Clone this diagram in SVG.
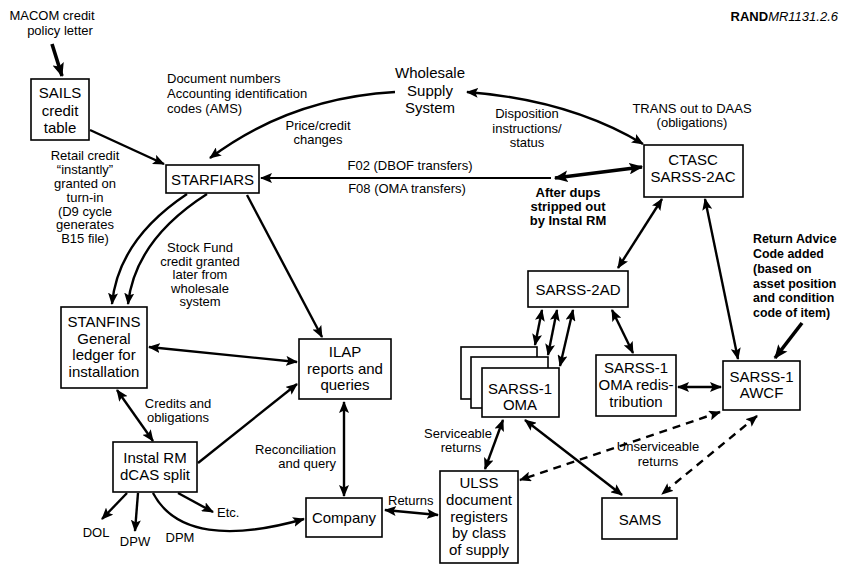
<svg xmlns="http://www.w3.org/2000/svg" width="842" height="566" viewBox="0 0 842 566">
<defs>
<marker id="ah" viewBox="0 0 12 10" refX="11" refY="5" markerWidth="12" markerHeight="10" markerUnits="userSpaceOnUse" orient="auto-start-reverse"><path d="M0,0 L12,5 L0,10 L2.5,5 z" fill="#000"/></marker>
<marker id="ahb" viewBox="0 0 12 10" refX="11" refY="5" markerWidth="14" markerHeight="12" markerUnits="userSpaceOnUse" orient="auto-start-reverse"><path d="M0,0 L12,5 L0,10 L2.5,5 z" fill="#000"/></marker>
<style>
.box{fill:#fff;stroke:#000;stroke-width:1.6}
.n{font-family:"Liberation Sans",Arial,sans-serif;font-size:15px;text-anchor:middle;fill:#000}
.l{font-family:"Liberation Sans",Arial,sans-serif;font-size:13px;fill:#000}
.c{text-anchor:middle}
.r{text-anchor:end}
.b{font-weight:bold}
.e{fill:none;stroke:#000;stroke-width:2.4}
.d{stroke-dasharray:8 6}
.t{stroke-width:3.6}
</style>
</defs>
<rect width="842" height="566" fill="#fff"/>

<g id="connectors">
<path class="e t" d="M52,44 L62,76" marker-end="url(#ahb)"/>
<path class="e" d="M90,130 L164,164" marker-end="url(#ah)"/>
<path class="e" d="M395,92 Q290,98 210,158" marker-end="url(#ah)"/>
<path class="e" d="M467,92 Q570,100 643,144" marker-start="url(#ah)" marker-end="url(#ah)"/>
<path class="e" style="stroke-width:2" d="M551,178 L261,178" marker-end="url(#ah)"/>
<path class="e t" d="M555,178 L642,167" marker-start="url(#ahb)" marker-end="url(#ahb)"/>
<path class="e" d="M187,194 Q118,240 112,304" marker-end="url(#ah)"/>
<path class="e" d="M207,194 Q135,240 128,304" marker-end="url(#ah)"/>
<path class="e" d="M247,195 L322,337" marker-end="url(#ah)"/>
<path class="e" d="M149,347 L297,362" marker-start="url(#ah)" marker-end="url(#ah)"/>
<path class="e" d="M117,390 L153,441" marker-start="url(#ah)" marker-end="url(#ah)"/>
<path class="e" d="M198,463 L297,384" marker-end="url(#ah)"/>
<path class="e" d="M344,402 L344,496" marker-start="url(#ah)" marker-end="url(#ah)"/>
<path class="e" d="M127,493 L102,519" marker-end="url(#ah)"/>
<path class="e" d="M138,493 L135,531" marker-end="url(#ah)"/>
<path class="e" d="M178,493 L213,512" marker-end="url(#ah)"/>
<path class="e" d="M153,493 C175,535 230,540 304,519" marker-end="url(#ah)"/>
<path class="e" d="M385,510 L438,515" marker-start="url(#ah)" marker-end="url(#ah)"/>
<path class="e" d="M662,199 L618,268" marker-start="url(#ah)" marker-end="url(#ah)"/>
<path class="e" d="M705,199 L738,359" marker-start="url(#ah)" marker-end="url(#ah)"/>
<path class="e t" d="M802,323 L775,358" marker-end="url(#ahb)"/>
<path class="e" d="M542,310 L535,345" marker-start="url(#ah)" marker-end="url(#ah)"/>
<path class="e" d="M557,310 L548,355" marker-start="url(#ah)" marker-end="url(#ah)"/>
<path class="e" d="M573,310 L560,366" marker-start="url(#ah)" marker-end="url(#ah)"/>
<path class="e" d="M612,310 L633,353" marker-start="url(#ah)" marker-end="url(#ah)"/>
<path class="e" d="M678,387 L721,387" marker-start="url(#ah)" marker-end="url(#ah)"/>
<path class="e" d="M503,420 L485,469" marker-start="url(#ah)" marker-end="url(#ah)"/>
<path class="e" d="M525,420 L622,495" marker-start="url(#ah)" marker-end="url(#ah)"/>
<path class="e d" d="M720,412 L520,480" marker-start="url(#ah)" marker-end="url(#ah)"/>
<path class="e d" d="M757,416 L662,494" marker-start="url(#ah)" marker-end="url(#ah)"/>
</g>

<g id="labels">
<text class="l b" x="838" y="21" text-anchor="end">RAND<tspan font-weight="normal" font-style="italic">MR1131.2.6</tspan></text>
<text class="l c" x="52" y="20">MACOM credit</text>
<text class="l c" x="60" y="35">policy letter</text>
<text class="l c" x="85"><tspan x="85" y="160">Retail credit</tspan><tspan x="85" y="174">“instantly”</tspan><tspan x="85" y="188">granted on</tspan><tspan x="85" y="201.5">turn-in</tspan><tspan x="85" y="215.5">(D9 cycle</tspan><tspan x="85" y="229">generates</tspan><tspan x="85" y="243">B15 file)</tspan></text>
<text class="l"><tspan x="167" y="83">Document numbers</tspan><tspan x="167" y="98">Accounting identification</tspan><tspan x="167" y="113">codes (AMS)</tspan></text>
<text class="l c"><tspan x="318" y="130">Price/credit</tspan><tspan x="318" y="144">changes</tspan></text>
<text class="l c"><tspan x="527" y="118">Disposition</tspan><tspan x="527" y="133">instructions/</tspan><tspan x="527" y="147">status</tspan></text>
<text class="l c"><tspan x="692" y="113">TRANS out to DAAS</tspan><tspan x="692" y="127">(obligations)</tspan></text>
<text class="l c" x="410" y="170">F02 (DBOF transfers)</text>
<text class="l c" x="407" y="193">F08 (OMA transfers)</text>
<text class="l b c"><tspan x="568" y="197">After dups</tspan><tspan x="568" y="211">stripped out</tspan><tspan x="568" y="225">by Instal RM</tspan></text>
<text class="l c"><tspan x="200" y="252">Stock Fund</tspan><tspan x="200" y="265.5">credit granted</tspan><tspan x="200" y="279">later from</tspan><tspan x="200" y="292.5">wholesale</tspan><tspan x="200" y="306">system</tspan></text>
<text class="l b" style="font-size:12.4px"><tspan x="753" y="243">Return Advice</tspan><tspan x="753" y="258">Code added</tspan><tspan x="753" y="273">(based on</tspan><tspan x="753" y="288">asset position</tspan><tspan x="753" y="302">and condition</tspan><tspan x="753" y="317">code of item)</tspan></text>
<text class="l c"><tspan x="178" y="408">Credits and</tspan><tspan x="178" y="422">obligations</tspan></text>
<text class="l r"><tspan x="336" y="454">Reconciliation</tspan><tspan x="336" y="468">and query</tspan></text>
<text class="l c" x="96" y="537">DOL</text>
<text class="l c" x="135" y="546">DPW</text>
<text class="l c" x="180" y="542">DPM</text>
<text class="l" x="217" y="517">Etc.</text>
<text class="l" x="388" y="505">Returns</text>
<text class="l c"><tspan x="458" y="438">Serviceable</tspan><tspan x="461" y="452">returns</tspan></text>
<text class="l c"><tspan x="658" y="451">Unserviceable</tspan><tspan x="658" y="466">returns</tspan></text>
</g>

<g id="wholesale"><text class="n"><tspan x="430" y="78">Wholesale</tspan><tspan x="430" y="95.5">Supply</tspan><tspan x="430" y="113">System</tspan></text></g>

<g id="sails"><rect class="box" x="31" y="79" width="58" height="61"/><text class="n"><tspan x="60" y="98">SAILS</tspan><tspan x="60" y="116">credit</tspan><tspan x="60" y="133">table</tspan></text></g>

<g id="starfiars"><rect class="box" x="166" y="165" width="93" height="28"/><text class="n" x="212.5" y="185">STARFIARS</text></g>

<g id="ctasc"><rect class="box" x="644" y="145" width="99" height="52"/><text class="n"><tspan x="693" y="165">CTASC</tspan><tspan x="693" y="182">SARSS-2AC</tspan></text></g>

<g id="stanfins"><rect class="box" x="61" y="307" width="86" height="81"/><text class="n"><tspan x="104" y="327">STANFINS</tspan><tspan x="104" y="344">General</tspan><tspan x="104" y="360">ledger for</tspan><tspan x="104" y="377">installation</tspan></text></g>

<g id="ilap"><rect class="box" x="299" y="339" width="92" height="60"/><text class="n"><tspan x="345" y="357">ILAP</tspan><tspan x="345" y="374">reports and</tspan><tspan x="345" y="390">queries</tspan></text></g>

<g id="instalrm"><rect class="box" x="113" y="442" width="84" height="50"/><text class="n"><tspan x="155" y="463">Instal RM</tspan><tspan x="155" y="480">dCAS split</tspan></text></g>

<g id="company"><rect class="box" x="306" y="498" width="76" height="39"/><text class="n" x="344" y="523">Company</text></g>

<g id="ulss"><rect class="box" x="440" y="471" width="78" height="92"/><text class="n"><tspan x="479" y="488">ULSS</tspan><tspan x="479" y="505">document</tspan><tspan x="479" y="521.5">registers</tspan><tspan x="479" y="538">by class</tspan><tspan x="479" y="555">of supply</tspan></text></g>

<g id="sarss2ad"><rect class="box" x="528" y="271" width="100" height="36"/><text class="n" x="578" y="295">SARSS-2AD</text></g>

<g id="sarss1oma"><rect class="box" x="461" y="347" width="76" height="52"/><rect class="box" x="471" y="357" width="77" height="51"/><rect class="box" x="482" y="368" width="77" height="49"/><text class="n"><tspan x="520" y="394">SARSS-1</tspan><tspan x="520" y="410">OMA</tspan></text></g>

<g id="omaredis"><rect class="box" x="596" y="355" width="80" height="61"/><text class="n"><tspan x="636" y="373">SARSS-1</tspan><tspan x="636" y="390">OMA redis-</tspan><tspan x="636" y="407">tribution</tspan></text></g>

<g id="awcf"><rect class="box" x="723" y="361" width="77" height="49"/><text class="n"><tspan x="761.5" y="382">SARSS-1</tspan><tspan x="761.5" y="398">AWCF</tspan></text></g>

<g id="sams"><rect class="box" x="602" y="498" width="75" height="41"/><text class="n" x="640" y="525">SAMS</text></g>
</svg>
